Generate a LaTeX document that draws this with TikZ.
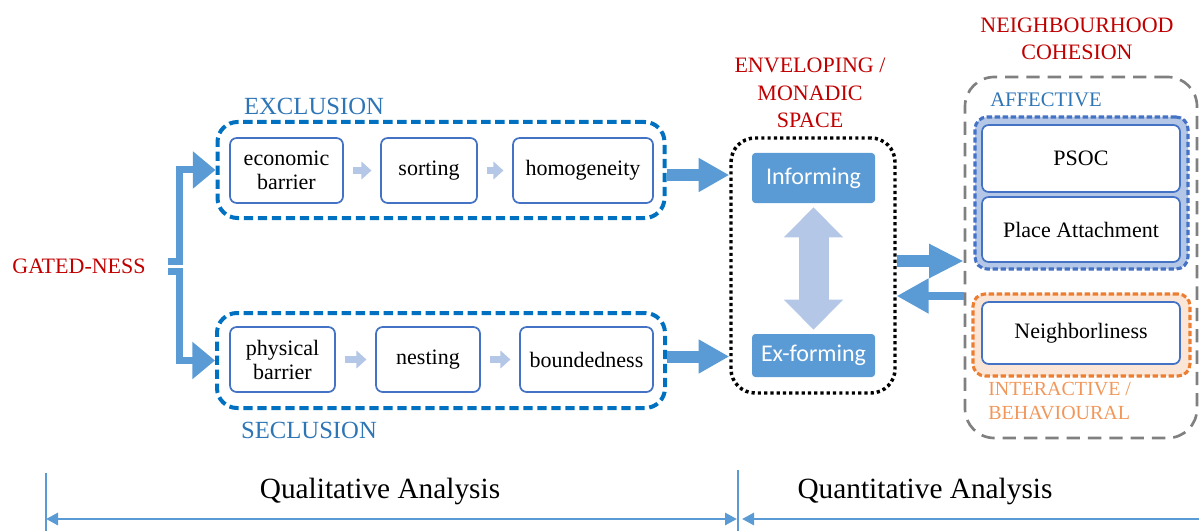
\documentclass[tikz,border=0pt]{standalone}
\usepackage{fontspec}
\setmainfont{Liberation Serif}
\newfontfamily\calib{Carlito}
\usetikzlibrary{arrows.meta}
\definecolor{gred}{HTML}{C00000}
\definecolor{dblue}{HTML}{0070C0}
\definecolor{bblue}{HTML}{4472C4}
\definecolor{mblue}{HTML}{5B9BD5}
\definecolor{lblue}{HTML}{B4C7E7}
\definecolor{orng}{HTML}{ED7D31}
\definecolor{lorng}{HTML}{FBE5D6}
\definecolor{lbl}{HTML}{2E75B6}
\definecolor{gry}{HTML}{808080}
\tikzset{
  lab/.style={inner sep=0pt, font=\fontsize{16.5}{21}\selectfont, align=center},
  group/.style={draw=dblue, line width=3pt, dash pattern=on 7pt off 3.5pt, rounded corners=15pt, inner sep=0pt},
  ibox/.style={draw=bblue, fill=white, line width=1.3pt, rounded corners=5pt, inner sep=0pt, align=center,
    font=\fontsize{16.5}{18}\selectfont},
  fbox/.style={fill=mblue, rounded corners=2.5pt, inner sep=0pt, text=white, font=\calib\fontsize{18}{20}\selectfont},
  small/.style={draw=lblue, line width=5.6pt, -{Triangle[length=7.5pt,width=13pt]}, shorten <=6.5pt, shorten >=6.5pt},
  big/.style={draw=mblue, line width=9pt, -{Triangle[length=23pt,width=24pt]}},
  gate/.style={draw=mblue, line width=5.25pt, line join=miter, -{Triangle[length=17pt,width=27pt]}},
  thin/.style={draw=mblue, line width=0.8pt},
  axis/.style={draw=mblue, line width=2.2pt},
}
\begin{document}
\begin{tikzpicture}[x=0.75pt, y=-0.75pt]
\useasboundingbox (0,0) rectangle (1199,531);

% left label
\node[lab, text=gred] (gn) at (79,266) {GATED-NESS};

% exclusion group
\node[group, minimum width=335.25pt, minimum height=72pt] (excl) at (441,170) {};
\node[lab, text=lbl, font=\fontsize{18.5}{20}\selectfont] (exlab) at (314,106) {EXCLUSION};
\node[ibox, minimum width=84.75pt, minimum height=48.75pt] (econ) at (286.5,170.5) {economic\\barrier};
\node[ibox, minimum width=72pt, minimum height=48.75pt] (sort) at (429,170.5) {sorting};
\node[ibox, minimum width=105pt, minimum height=48.75pt] (homo) at (583,170.5) {homogeneity};
\draw[small] (econ) -- (sort);
\draw[small] (sort) -- (homo);

% seclusion group
\node[group, minimum width=336pt, minimum height=71.25pt] (secl) at (441,360.5) {};
\node[lab, text=lbl, font=\fontsize{18.5}{20}\selectfont] (selab) at (309,430) {SECLUSION};
\node[ibox, minimum width=78.75pt, minimum height=48.75pt] (phys) at (282.5,359.5) {physical\\barrier};
\node[ibox, minimum width=78pt, minimum height=48.75pt] (nest) at (428,359.5) {nesting};
\node[ibox, minimum width=99.75pt, minimum height=48.75pt] (bound) at (586.5,359.5) {boundedness};
\draw[small] (phys) -- (nest);
\draw[small] (nest) -- (bound);

% gate connectors
\coordinate (gt) at (168,261);
\coordinate (gb) at (168,271);
\draw[gate] (gt) -- ++(11,0) |- (excl.west);
\draw[gate] (gb) -- ++(11,0) |- (secl.west);

% enveloping space
\node[lab, text=gred, font=\fontsize{16.5}{20.5}\selectfont] (envlab) at (810,93) {ENVELOPING /\\MONADIC\\SPACE};
\node[draw=black, line width=2.6pt, dash pattern=on 2.4pt off 2.3pt, rounded corners=18pt,
  minimum width=123pt, minimum height=191.25pt, inner sep=0pt] (env) at (813,265.5) {};
\node[fbox, minimum width=92.25pt, minimum height=37.5pt] (inf) at (813.5,178) {Informing};
\node[fbox, minimum width=92.25pt, minimum height=32.25pt] (exf) at (813.5,355.5) {Ex-forming};
\draw[draw=lblue, line width=22.5pt, {Triangle[length=22.5pt,width=43pt]}-{Triangle[length=22.5pt,width=43pt]},
  shorten <=3pt, shorten >=3pt] (inf.south) -- (exf.north);

\draw[big] (excl.east |- inf) ++(0,-3) coordinate (a1) -- (a1 -| env.west);
\draw[big] (secl.east |- exf) ++(0,1) coordinate (a2) -- (a2 -| env.west);

% cohesion
\node[lab, text=gred, font=\fontsize{16.5}{20}\selectfont] (cohlab) at (1077,39) {NEIGHBOURHOOD\\COHESION};
\node[draw=gry, line width=2pt, dash pattern=on 10pt off 6pt, rounded corners=22pt,
  minimum width=174pt, minimum height=270.75pt, inner sep=0pt] (coh) at (1081,257.5) {};
\node[lab, text=lbl, font=\fontsize{15.5}{17}\selectfont, anchor=west] (afflab) at (990,100) {AFFECTIVE};
\node[draw=bblue, fill=lblue, line width=2.3pt, dash pattern=on 4pt off 2pt, rounded corners=9pt,
  minimum width=159.75pt, minimum height=114pt, inner sep=0pt] (aff) at (1081.5,193) {};
\node[ibox, minimum width=148.5pt, minimum height=50.25pt] (psoc) at (1081,158.5) {PSOC};
\node[ibox, minimum width=148.5pt, minimum height=48.75pt] (place) at (1081,229.5) {Place Attachment};
\node[draw=orng, fill=lorng, line width=2.3pt, dash pattern=on 4pt off 2pt, rounded corners=9pt,
  minimum width=162.75pt, minimum height=61.5pt, inner sep=0pt] (inter) at (1081.5,335) {};
\node[ibox, minimum width=148.5pt, minimum height=46.5pt] (neigh) at (1081,333) {Neighborliness};
\node[lab, text=orng!80, font=\fontsize{15}{17.5}\selectfont, anchor=west, align=left] (intlab) at (988,401)
  {INTERACTIVE /\\BEHAVIOURAL};

\path (env.east) ++(0,-4.5) coordinate (r1);
\path (env.east) ++(0,30.5) coordinate (r2);
\draw[draw=mblue, line width=9pt, -{Triangle[length=26pt,width=24pt]}] (r1) -- (r1 -| coh.west);
\draw[draw=mblue, line width=5.5pt, -{Triangle[length=24pt,width=25pt]}] (r2 -| coh.west) -- (r2);

% bottom analysis bands
\coordinate (lt) at (46,473);
\coordinate (lb) at (46,531);
\coordinate (mt) at (738,470);
\coordinate (mb) at (738,531);
\coordinate (ql) at (46,519);
\coordinate (qm) at (737,519);
\coordinate (qn) at (742,519);
\coordinate (qr) at (1199,519);
\draw[thin] (lt) -- (lb);
\draw[thin] (mt) -- (mb);
\draw[axis, {Triangle[length=9pt,width=9pt]}-{Triangle[length=9pt,width=9pt]}] (ql) -- (qm);
\draw[axis, {Triangle[length=9pt,width=9pt]}-] (qn) -- (qr);
\node[lab, font=\fontsize{22}{24}\selectfont] (qual) at (380,491) {Qualitative Analysis};
\node[lab, font=\fontsize{22}{24}\selectfont] (quan) at (925,491) {Quantitative Analysis};
\end{tikzpicture}
\end{document}
